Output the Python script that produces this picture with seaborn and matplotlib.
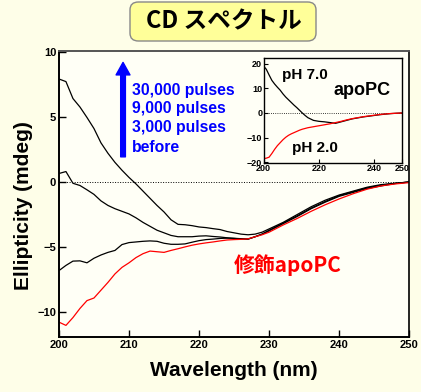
import numpy as np
import pandas as pd
import seaborn as sns
import matplotlib
matplotlib.use("Agg")
import matplotlib.pyplot as plt
from matplotlib.patches import FancyBboxPatch

# ---------------- data ----------------
wavelength = [200, 201, 202, 203, 204, 205, 206, 207, 208, 209, 210, 211, 212, 213,
              214, 215, 216, 217, 218, 219, 220, 221, 222, 223, 224, 225, 226, 227,
              228, 229, 230, 232, 234, 236, 238, 240, 242, 244, 246, 248, 250]

pulses_30000 = [7.9, 7.7, 6.4, 5.75, 4.95, 4.1, 3.0, 2.2, 1.5, 0.9, 0.35, -0.15, -0.7, -1.25,
                -1.8, -2.3, -2.9, -3.25, -3.28, -3.35, -3.45, -3.5, -3.58, -3.65, -3.8, -3.9, -4.0, -4.05,
                -4.0, -3.85, -3.6, -3.1, -2.5, -1.9, -1.4, -1.0, -0.7, -0.4, -0.2, -0.1, 0.0]
pulses_9000 = [0.65, 0.8, -0.1, -0.27, -0.6, -0.95, -1.45, -1.8, -2.05, -2.25, -2.45, -2.75, -3.1, -3.4,
               -3.7, -3.9, -4.1, -4.2, -4.2, -4.2, -4.15, -4.13, -4.18, -4.22, -4.28, -4.33, -4.37, -4.38,
               -4.2, -4.0, -3.7, -3.15, -2.6, -2.0, -1.5, -1.05, -0.75, -0.45, -0.25, -0.1, 0.0]
pulses_3000 = [-6.8, -6.4, -6.07, -6.05, -6.2, -5.85, -5.6, -5.4, -5.25, -4.8, -4.65, -4.6, -4.55, -4.52,
               -4.55, -4.7, -4.78, -4.78, -4.75, -4.62, -4.5, -4.42, -4.38, -4.33, -4.31, -4.32, -4.35, -4.38,
               -4.2, -4.0, -3.75, -3.2, -2.65, -2.05, -1.55, -1.1, -0.8, -0.5, -0.3, -0.12, 0.0]
before = [-10.75, -11.0, -10.4, -9.7, -9.1, -8.9, -8.3, -7.7, -7.05, -6.55, -6.2, -5.8, -5.5, -5.3,
          -5.35, -5.4, -5.25, -5.12, -4.98, -4.85, -4.75, -4.67, -4.6, -4.52, -4.45, -4.42, -4.4, -4.36,
          -4.2, -4.05, -3.85, -3.3, -2.8, -2.25, -1.75, -1.3, -0.9, -0.55, -0.3, -0.15, -0.05]

series_names = ["30,000 pulses", "9,000 pulses", "3,000 pulses", "before"]
series_colors = ["black", "black", "black", "red"]

inset_wl = [200, 201, 202, 203, 204, 205, 206, 207, 208, 209, 210, 211, 212, 213, 214, 215,
            216, 218, 220, 222, 224, 226, 228, 230, 232, 234, 236, 238, 240, 242, 244, 246, 248, 250]
ph7 = [19.1, 17.8, 15.5, 13.3, 11.8, 10.5, 9.3, 7.8, 6.5, 5.4, 4.3, 3.2, 2.2, 1.1, 0.0, -1.0,
       -1.9, -3.0, -3.4, -3.6, -3.9, -4.2, -3.6, -3.0, -2.4, -2.0, -1.6, -1.3, -1.0, -0.7, -0.45, -0.25, -0.1, 0.0]
ph2 = [-18.6, -18.4, -18.0, -16.5, -14.8, -13.3, -12.1, -10.9, -9.9, -9.1, -8.5, -8.0, -7.5, -7.0, -6.6, -6.3,
       -6.0, -5.6, -5.2, -4.8, -4.4, -3.9, -3.4, -2.8, -2.3, -1.9, -1.5, -1.2, -0.9, -0.6, -0.4, -0.2, -0.1, 0.0]

main_xticks = [200, 210, 220, 230, 240, 250]
main_yticks = [-10, -5, 0, 5, 10]
inset_xticks = [200, 220, 240, 250]
inset_yticks = [-20, -10, 0, 10, 20]

title_text = "CD スペクトル"
xlabel_text = "Wavelength (nm)"
ylabel_text = "Ellipticity (mdeg)"
modified_label = "修飾apoPC"
inset_labels = ["pH 7.0", "apoPC", "pH 2.0"]

# ---------------- style ----------------
sns.set_theme(style="ticks")
plt.rcParams["font.family"] = ["Liberation Sans", "Noto Sans CJK JP", "DejaVu Sans"]
plt.rcParams["font.weight"] = "bold"
plt.rcParams["text.color"] = "black"
plt.rcParams["axes.labelcolor"] = "black"
plt.rcParams["xtick.color"] = "black"
plt.rcParams["ytick.color"] = "black"

FIG_BG = "#FEFEE8"
AX_BG = "#FFFFF6"

fig = plt.figure(figsize=(4.21, 3.92), dpi=100, facecolor=FIG_BG)
ax = fig.add_axes([0.140, 0.140, 0.832, 0.730], facecolor=AX_BG)

df = pd.DataFrame({
    "wl": wavelength * 4,
    "val": pulses_30000 + pulses_9000 + pulses_3000 + before,
    "series": sum([[n] * len(wavelength) for n in series_names], []),
})
sns.lineplot(data=df, x="wl", y="val", hue="series", hue_order=series_names,
             palette=dict(zip(series_names, series_colors)), estimator=None,
             linewidth=0.9, legend=False, ax=ax)

ax.axhline(0, color="black", lw=0.7, ls=(0, (1.0, 1.6)), zorder=1)
ax.set_xlim(200, 250)
ax.set_ylim(-11.9, 10.05)
ax.set_xticks(main_xticks)
ax.set_yticks(main_yticks)
ax.tick_params(direction="in", length=5, width=1.0, labelsize=8, pad=2, colors="black")
for lab in ax.get_xticklabels() + ax.get_yticklabels():
    lab.set_fontweight("bold")
ax.set_xlabel(xlabel_text, fontsize=15, fontweight="bold", labelpad=8)
ax.set_ylabel(ylabel_text, fontsize=15, fontweight="bold")
ax.yaxis.set_label_coords(-0.075, 0.46)
for s in ["left", "bottom"]:
    ax.spines[s].set_linewidth(1.4)
    ax.spines[s].set_color("black")
ax.spines["right"].set_linewidth(1.2)
ax.spines["right"].set_color("black")
ax.spines["top"].set_linewidth(1.4)
ax.spines["top"].set_color("#555555")
ax.spines["top"].set_visible(True)
ax.spines["right"].set_visible(True)

# blue arrow + labels
ax.annotate("", xy=(0.183, 0.960), xytext=(0.183, 0.630), xycoords="axes fraction",
            arrowprops=dict(arrowstyle="simple,head_width=1.0,head_length=0.9,tail_width=0.34",
                            color="#0000FF", mutation_scale=10, shrinkA=0, shrinkB=0))
text_y = [0.862, 0.798, 0.731, 0.664]
for name, ty in zip(series_names, text_y):
    ax.text(0.208, ty, name, transform=ax.transAxes, color="#0000FF", fontsize=11.3,
            fontweight="bold", va="center", ha="left")

ax.text(0.653, 0.252, modified_label, transform=ax.transAxes, color="#FF0000", fontsize=15,
        fontweight="bold", va="center", ha="center", family=["Noto Sans CJK JP"])

# ---------------- inset ----------------
ins = fig.add_axes([0.626, 0.584, 0.329, 0.268], facecolor=AX_BG)
dfi = pd.DataFrame({
    "wl": inset_wl * 2,
    "val": ph7 + ph2,
    "series": ["pH 7.0"] * len(inset_wl) + ["pH 2.0"] * len(inset_wl),
})
sns.lineplot(data=dfi, x="wl", y="val", hue="series", hue_order=["pH 7.0", "pH 2.0"],
             palette={"pH 7.0": "black", "pH 2.0": "red"}, estimator=None,
             linewidth=0.9, legend=False, ax=ins)
ins.axhline(0, color="black", lw=0.6, ls=(0, (1.0, 1.6)), zorder=1)
ins.set_xlim(200, 250)
ins.set_ylim(-20.4, 22.4)
ins.set_xticks(inset_xticks)
ins.set_yticks(inset_yticks)
ins.tick_params(direction="in", length=3, width=0.8, labelsize=6.5, pad=1, colors="black")
for lab in ins.get_xticklabels() + ins.get_yticklabels():
    lab.set_fontweight("bold")
ins.set_xlabel("")
ins.set_ylabel("")
for s in ins.spines.values():
    s.set_visible(True)
    s.set_color("black")
    s.set_linewidth(1.0)
ins.text(0.134, 0.838, inset_labels[0], transform=ins.transAxes, fontsize=11, fontweight="bold",
         va="center", ha="left")
ins.text(0.502, 0.695, inset_labels[1], transform=ins.transAxes, fontsize=13, fontweight="bold",
         va="center", ha="left")
ins.text(0.206, 0.143, inset_labels[2], transform=ins.transAxes, fontsize=11, fontweight="bold",
         va="center", ha="left")

# ---------------- title box ----------------
W, H = 421, 392
box = FancyBboxPatch((130 / W, 1 - 41 / H), 186 / W, 39 / H,
                     boxstyle="round,pad=0,rounding_size=0.02", transform=fig.transFigure,
                     facecolor="#FFFF99", edgecolor="#888888", linewidth=1.0)
fig.patches.append(box)
fig.text(224 / W, 1 - 21 / H, title_text, ha="center", va="center", fontsize=17,
         fontweight="bold", family=["Noto Sans CJK JP"])

fig.savefig("out.png", dpi=100, facecolor=FIG_BG)
